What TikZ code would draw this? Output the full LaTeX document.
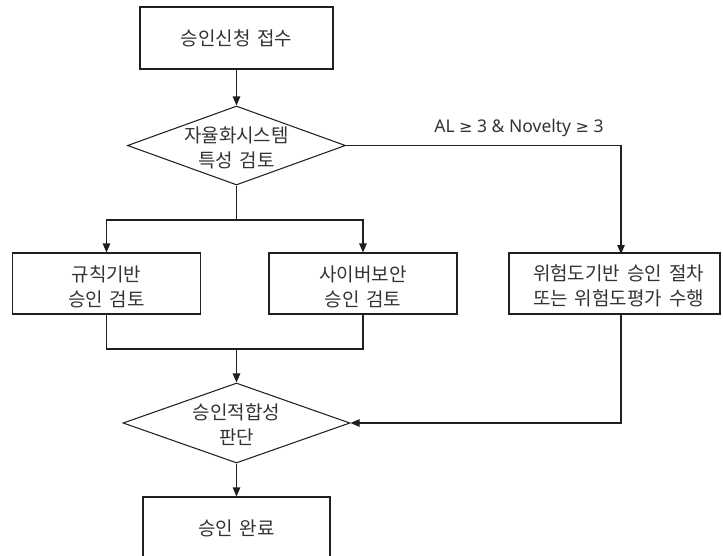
\documentclass[tikz,border=0pt]{standalone}
\usepackage{fontspec}
\setmainfont[WordSpace=1.6]{Noto Sans CJK KR}
\newfontfamily\labfont{Noto Sans}
\newfontfamily\symfont{DejaVu Sans}
\usetikzlibrary{shapes.geometric,arrows.meta}
\tikzset{
  ln/.style={line width=1.05pt, draw=black!88},
  arr/.style={ln, -{Triangle[length=9pt,width=7.5pt]}},
  box/.style={ln, rectangle, inner sep=0pt, align=center, text=black!80, font=\fontsize{19}{25}\selectfont},
  dia/.style={ln, diamond, inner sep=0pt},
  txt/.style={inner sep=0pt, align=center, text=black!80, font=\fontsize{19}{25}\selectfont},
}
\begin{document}
\begin{tikzpicture}[x=1pt,y=-1pt]
\useasboundingbox (0,0) rectangle (723,555);
\clip (0,0) rectangle (723,555);
% nodes
\node[box, minimum width=193pt, minimum height=62pt] (A) at (236.5,38) {승인신청 접수};
\node[dia, minimum width=218pt, minimum height=79pt] (D1) at (236.5,145.5) {};
\node[txt] (D1t) at ([yshift=-2pt]D1.center) {자율화시스템\\특성 검토};
\node[box, minimum width=188pt, minimum height=61pt] (L) at (106.5,283.5) {};
\node[txt] (Lt) at ([yshift=-3pt]L.center) {규칙기반\\승인 검토};
\node[box, minimum width=188pt, minimum height=61pt] (M) at (363,283.5) {};
\node[txt] (Mt) at ([yshift=-3pt]M.center) {사이버보안\\승인 검토};
\node[box, minimum width=211pt, minimum height=61pt] (R) at (614.5,283.5) {};
\node[txt] (Rt) at ([xshift=4pt,yshift=-2pt]R.center) {위험도기반 승인 절차\\또는 위험도평가 수행};
\node[dia, minimum width=227pt, minimum height=80pt] (D2) at (236.5,423) {};
\node[txt] (D2t) at ([yshift=-2pt]D2.center) {승인적합성\\판단};
\node[box, minimum width=187pt, minimum height=62pt] (E) at (236.5,528) {승인 완료};
% coordinates
\coordinate (s1) at (236.5,220);
\coordinate (m1) at (236.5,349);
\coordinate (rin) at (621,254);
\coordinate (rout) at (621,314);
% connectors
\draw[arr] (A.south) -- (D1.north);
\draw[ln] (D1.south) -- (s1);
\draw[arr] (s1) -| (L.north);
\draw[arr] (s1) -| (M.north);
\draw[arr] (D1.east) -| (rin);
\node[inner sep=0pt, text=black!80, font=\labfont\fontsize{17.5}{20}\selectfont] (lab) at (519,128) {AL {\symfont\fontsize{16}{20}\selectfont ≥} 3 \& Novelty {\symfont\fontsize{16}{20}\selectfont ≥} 3};
\draw[ln] (L.south) |- (m1) -| (M.south);
\draw[arr] (m1) -- (D2.north);
\draw[arr] (rout) |- (D2.east);
\draw[arr] (D2.south) -- (E.north);
\end{tikzpicture}
\end{document}
